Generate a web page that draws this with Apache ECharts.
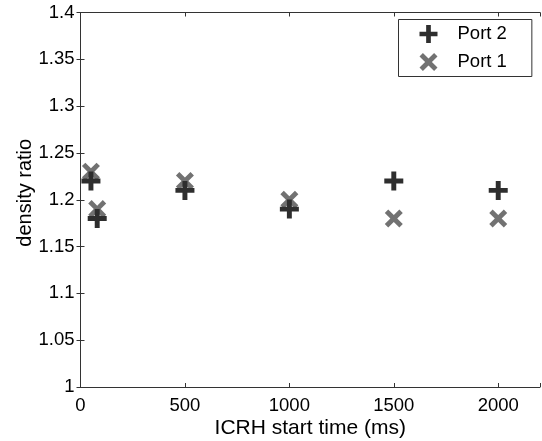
<!DOCTYPE html>
<html>
<head>
<meta charset="utf-8">
<script src="https://cdn.jsdelivr.net/npm/echarts@6/dist/echarts.min.js"></script>
<style>
html,body{margin:0;padding:0;background:#fff;}
#chart{width:542px;height:441px;}
</style>
</head>
<body>
<div id="chart"></div>
<script>
// Data
const xTicks = [0, 500, 1000, 1500, 2000];
const yTicks = ['1', '1.05', '1.1', '1.15', '1.2', '1.25', '1.3', '1.35', '1.4'];
const port2X = [50, 80, 500, 1000, 1500, 2000];
const port2Y = [1.22, 1.18, 1.21, 1.19, 1.22, 1.21];
const port1X = [50, 80, 500, 1000, 1500, 2000];
const port1Y = [1.23, 1.19, 1.22, 1.20, 1.18, 1.18];

const plusPath = 'path://M7.4,0h5.2v7.4h7.4v5.2h-7.4v7.4h-5.2v-7.4h-7.4v-5.2h7.4z';
const crossPath = 'path://M3.8,0L10,6.2L16.2,0L20,3.8L13.8,10L20,16.2L16.2,20L10,13.8L3.8,20L0,16.2L6.2,10L0,3.8z';

const font = 'Liberation Sans, Arial, sans-serif';
const axisColor = '#333';

function pairs(xs, ys) { return xs.map((x, i) => [x, ys[i]]); }

const chart = echarts.init(document.getElementById('chart'));
const baseX = {
  type: 'value', min: 0, max: 2200, interval: 500,
  axisLine: { show: true, lineStyle: { color: axisColor, width: 1 } },
  axisTick: { show: true, inside: true, length: 4, lineStyle: { color: axisColor } },
  splitLine: { show: false }
};
const baseY = {
  type: 'value', min: 1, max: 1.4, interval: 0.05,
  axisLine: { show: true, lineStyle: { color: axisColor, width: 1 } },
  axisTick: { show: true, inside: true, length: 4, lineStyle: { color: axisColor } },
  splitLine: { show: false }
};

chart.setOption({
  animation: false,
  backgroundColor: '#fff',
  grid: { left: 80.5, top: 12.5, right: 2, bottom: 54, containLabel: false, outerBoundsMode: 'none' },
  legend: {
    orient: 'vertical',
    left: 398.5, top: 19.5,
    data: ['Port 2', 'Port 1'],
    itemWidth: 18, itemHeight: 18, itemGap: 9,
    padding: [5, 25, 5, 21],
    borderColor: axisColor, borderWidth: 1,
    backgroundColor: '#fff',
    textStyle: { fontFamily: font, fontSize: 18.5, color: '#000', padding: [0, 0, 0, 15] }
  },
  xAxis: [
    Object.assign({}, baseX, {
      position: 'bottom',
      name: 'ICRH start time (ms)', nameLocation: 'middle', nameGap: 31, nameMoveOverlap: false,
      nameTextStyle: { fontFamily: font, fontSize: 21, color: '#000' },
      axisLabel: {
        show: true, margin: 9, fontFamily: font, fontSize: 18.5, color: '#000',
        formatter: v => xTicks.indexOf(v) >= 0 ? String(v) : ''
      }
    }),
    Object.assign({}, baseX, { position: 'top', axisLabel: { show: false } })
  ],
  yAxis: [
    Object.assign({}, baseY, {
      position: 'left',
      name: 'density ratio', nameLocation: 'middle', nameGap: 45, nameMoveOverlap: false,
      nameTextStyle: { fontFamily: font, fontSize: 20, color: '#000', padding: [0, 0, 0, 14] },
      axisLabel: {
        show: true, margin: 6, fontFamily: font, fontSize: 18.5, color: '#000',
        formatter: v => {
          const s = String(Math.round(v * 100) / 100);
          return yTicks.indexOf(s) >= 0 ? s : '';
        }
      }
    }),
    Object.assign({}, baseY, { position: 'right', axisLabel: { show: false } })
  ],
  series: [
    {
      name: 'Port 1', type: 'scatter', xAxisIndex: 0, yAxisIndex: 0,
      symbol: crossPath, symbolSize: 18, z: 2,
      itemStyle: { color: '#727272', opacity: 1 },
      data: pairs(port1X, port1Y)
    },
    {
      name: 'Port 2', type: 'scatter', xAxisIndex: 0, yAxisIndex: 0,
      symbol: plusPath, symbolSize: 19, z: 3,
      itemStyle: { color: '#2e2e2e', opacity: 1 },
      data: pairs(port2X, port2Y)
    }
  ]
});
</script>
</body>
</html>
